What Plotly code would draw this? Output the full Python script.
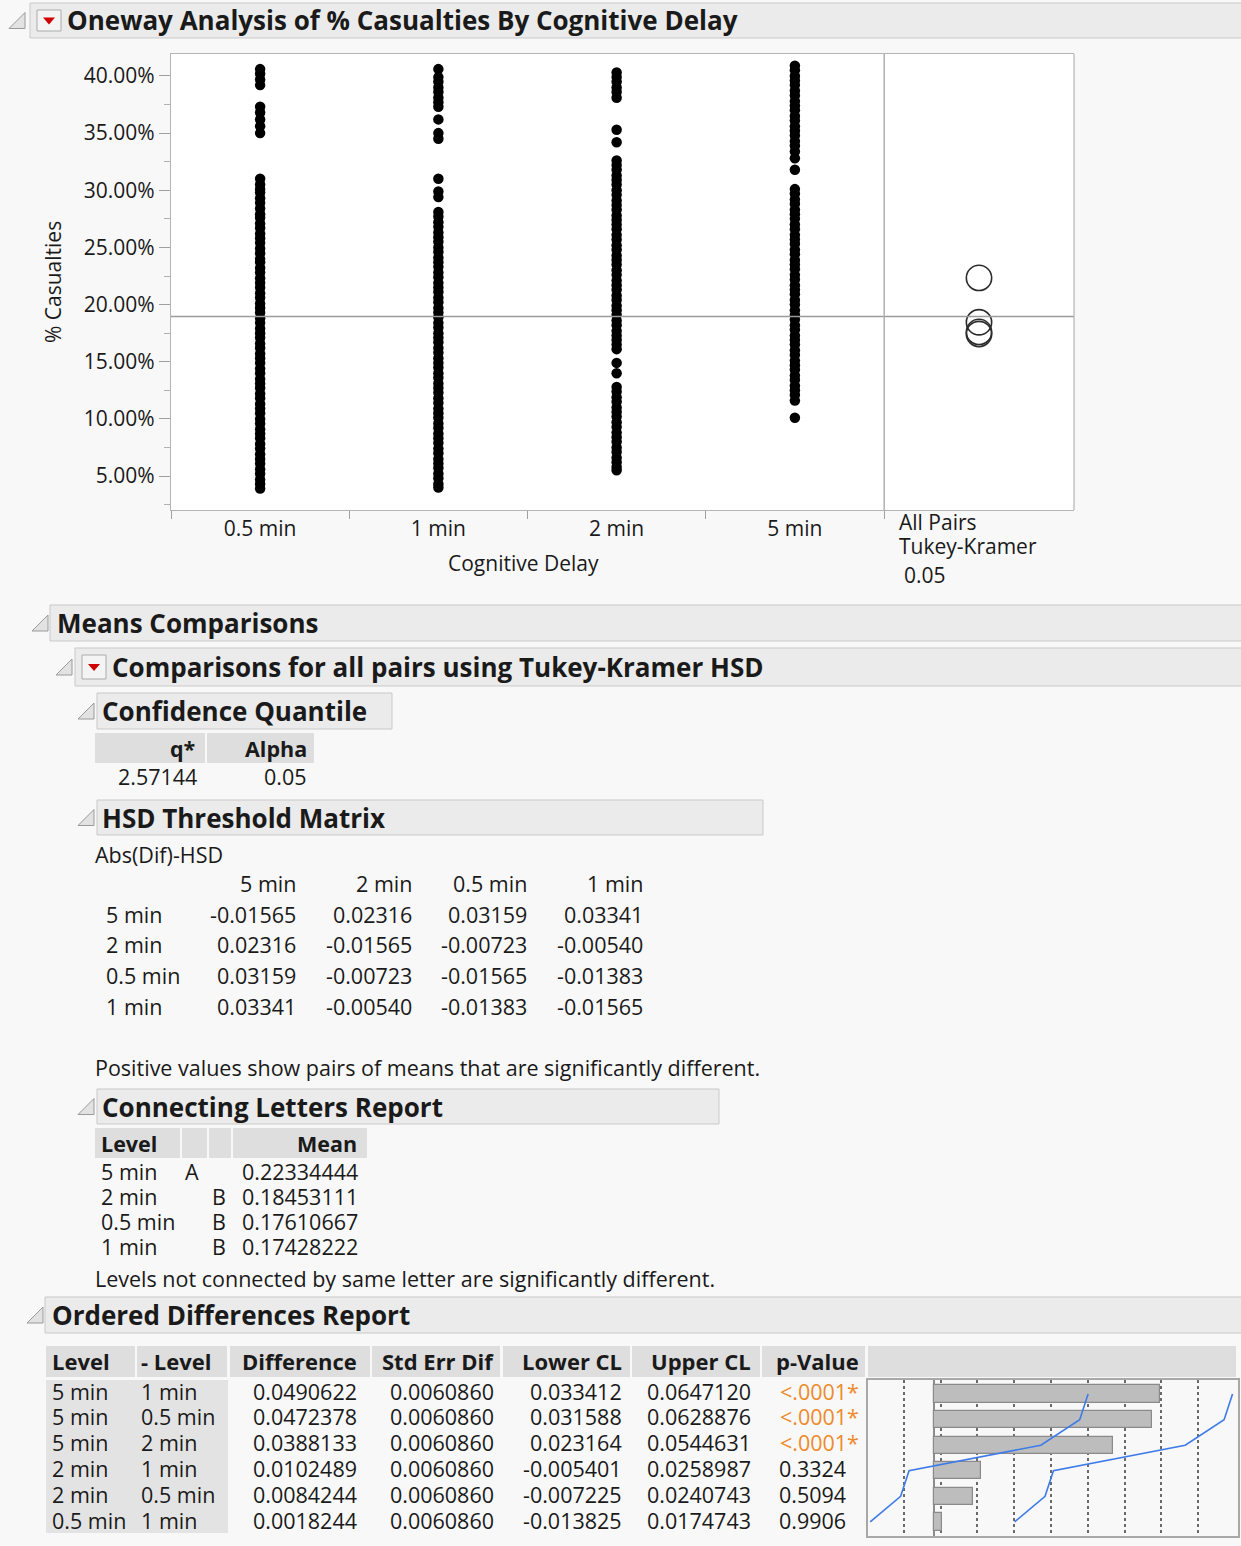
import math

import plotly.graph_objects as go

W, H = 1241, 1546
FONT = "Open Sans, Noto Sans, sans-serif"
TEXT = "#1a1a1a"
BG = "#f8f8f8"
HEAD_FILL = "#ebebeb"
HEAD_LINE = "#c9c9c9"
CELL_FILL = "#dedede"
FRAME = "#b4b4b4"
ORANGE = "#ee8a2b"
BLUE = "#3f7be8"
BODY = 21.5
HEAD = 26

# ---- data -------------------------------------------------------------
LEVELS = ["0.5 min", "1 min", "2 min", "5 min"]

# % Casualties (dense columns read at ~0.45% resolution)
CAS_05 = [40.6, 40.2, 39.7, 39.2,
          37.3, 36.8, 36.2, 35.6, 35.0,
          31.0, 30.5, 30.1, 29.8, 29.3, 28.9, 28.4, 27.9, 27.6, 27.1, 26.7,
          26.2, 25.8, 25.4, 24.9, 24.5, 24.0, 23.7, 23.2, 22.8, 22.3, 21.9,
          21.5, 21.0, 20.6, 20.1, 19.7, 19.3, 18.8, 18.4, 17.9, 17.5, 17.1,
          16.6, 16.2, 15.7, 15.3, 14.9, 14.4, 14.0, 13.5, 13.1, 12.7, 12.2,
          11.8, 11.3, 10.9, 10.5, 10.0, 9.6, 9.1, 8.7, 8.3, 7.8, 7.4, 6.9,
          6.5, 6.1, 5.6, 5.2, 4.7, 4.3, 3.9]
CAS_1 = [40.6, 39.9, 39.5, 39.0, 38.6, 38.1, 37.7, 37.3, 36.2, 35.0, 34.5,
         31.0, 29.9, 29.4,
         28.1, 27.7, 27.2, 26.8, 26.3, 25.9, 25.5, 25.0, 24.6, 24.1, 23.7,
         23.3, 22.8, 22.4, 21.9, 21.5, 21.1, 20.6, 20.2, 19.7, 19.3, 18.9,
         18.4, 18.0, 17.5, 17.1, 16.7, 16.2, 15.8, 15.3, 14.9, 14.5, 14.0,
         13.6, 13.1, 12.7, 12.3, 11.8, 11.4, 10.9, 10.5, 10.1, 9.6, 9.2,
         8.7, 8.3, 7.9, 7.4, 7.0, 6.5, 6.1, 5.7, 5.2, 4.8, 4.3, 4.0]
CAS_2 = [40.3, 39.9, 39.5, 39.0, 38.6, 38.1,
         35.3, 34.2,
         32.6, 32.2, 31.8, 31.3, 30.9, 30.5, 30.0, 29.6, 29.1, 28.7, 28.3,
         27.8, 27.4, 27.0, 26.6, 26.1, 25.7, 25.2, 24.8, 24.3, 23.9, 23.5,
         23.0, 22.6, 22.1, 21.7, 21.3, 20.8, 20.4, 19.9, 19.5, 19.1, 18.6,
         18.2, 17.7, 17.3, 16.9, 16.5, 16.1,
         14.9, 14.0,
         12.8, 12.4, 11.9, 11.5, 11.0, 10.6, 10.2, 9.7, 9.3, 8.8, 8.4, 8.0,
         7.5, 7.1, 6.6, 6.2, 5.8, 5.5]
CAS_5 = [40.9, 40.5, 40.0, 39.6, 39.2, 38.7, 38.3, 37.8, 37.4, 37.0, 36.5,
         36.1, 35.6, 35.2, 34.8, 34.3, 33.9, 33.4, 32.8, 31.8,
         30.1, 29.7, 29.2, 28.8, 28.3, 27.9, 27.5, 27.0, 26.6, 26.1, 25.7,
         25.3, 24.8, 24.4, 23.9, 23.5, 23.1, 22.6, 22.2, 21.7, 21.3, 20.9,
         20.4, 20.0, 19.5, 19.1, 18.7, 18.2, 17.8, 17.3, 16.9, 16.5, 16.0,
         15.6, 15.1, 14.7, 14.3, 13.8, 13.4, 12.9, 12.5, 12.1, 11.6,
         10.1]
CASUALTIES = [CAS_05, CAS_1, CAS_2, CAS_5]

Q_STAR = 2.57144
ALPHA = 0.05
STD_ERR_DIF = 0.0060860

# connecting letters report
CL_LEVELS = ["5 min", "2 min", "0.5 min", "1 min"]
CL_LETTER_A = ["A", "", "", ""]
CL_LETTER_B = ["", "B", "B", "B"]
CL_MEANS = [0.22334444, 0.18453111, 0.17610667, 0.17428222]

# HSD threshold matrix
HSD_LEVELS = ["5 min", "2 min", "0.5 min", "1 min"]
HSD = [
    ["-0.01565", "0.02316", "0.03159", "0.03341"],
    ["0.02316", "-0.01565", "-0.00723", "-0.00540"],
    ["0.03159", "-0.00723", "-0.01565", "-0.01383"],
    ["0.03341", "-0.00540", "-0.01383", "-0.01565"],
]

# ordered differences report
OD_LEVEL = ["5 min", "5 min", "5 min", "2 min", "2 min", "0.5 min"]
OD_MINUS = ["1 min", "0.5 min", "2 min", "1 min", "0.5 min", "1 min"]
OD_DIFF = [0.0490622, 0.0472378, 0.0388133, 0.0102489, 0.0084244, 0.0018244]
OD_SE = [0.0060860] * 6
OD_LOWER = [0.033412, 0.031588, 0.023164, -0.005401, -0.007225, -0.013825]
OD_UPPER = [0.0647120, 0.0628876, 0.0544631, 0.0258987, 0.0240743, 0.0174743]
OD_P = ["<.0001*", "<.0001*", "<.0001*", "0.3324", "0.5094", "0.9906"]
OD_GRID = [-0.0065, 0.0015, 0.0094, 0.0174, 0.0254, 0.0333, 0.0413, 0.0493, 0.0572]

# ---- layout helpers ------------------------------------------------------
MAIN_L, MAIN_R, PANEL_R = 171, 884, 1074
MAIN_T, MAIN_B = 54, 510
Y_RANGE = [2.03, 41.92]
MINI_L, MINI_R, MINI_T, MINI_B = 868, 1238, 1380, 1536


def X(px):
    return px / W


def Y(py):
    return 1 - py / H


shapes = []
annotations = []


def rect(x0, y0, x1, y1, fill, line=None, lw=1):
    shapes.append(dict(type="rect", xref="paper", yref="paper",
                       x0=X(x0), x1=X(x1), y0=Y(y1), y1=Y(y0),
                       fillcolor=fill, line=dict(color=line or fill, width=lw if line else 0),
                       layer="below"))


def text(s, x, y, size=BODY, bold=False, anchor="left", color=TEXT, angle=0):
    annotations.append(dict(text=f"<b>{s}</b>" if bold else s, x=X(x), y=Y(y),
                            xref="paper", yref="paper", showarrow=False,
                            xanchor=anchor, yanchor="middle", textangle=angle,
                            font=dict(family=FONT, size=size, color=color)))


def tri(x0, y0, x1, y1):
    # disclosure icon
    path = f"M {X(x0)} {Y(y1)} L {X(x1)} {Y(y1)} L {X(x1)} {Y(y0)} Z"
    shapes.append(dict(type="path", xref="paper", yref="paper", path=path,
                       fillcolor="#e2e2e2", line=dict(color="#9a9a9a", width=1)))


def red_button(x0, y0, x1, y1):
    shapes.append(dict(type="rect", xref="paper", yref="paper",
                       x0=X(x0), x1=X(x1), y0=Y(y1), y1=Y(y0),
                       fillcolor="#f4f4f4", line=dict(color="#ababab", width=1)))
    cx, cy = (x0 + x1) / 2, (y0 + y1) / 2
    path = (f"M {X(cx - 6)} {Y(cy - 3)} L {X(cx + 6)} {Y(cy - 3)} "
            f"L {X(cx)} {Y(cy + 4)} Z")
    shapes.append(dict(type="path", xref="paper", yref="paper", path=path,
                       fillcolor="#d10000", line=dict(width=0)))


def header(title, x0, y0, x1, y1, tx, tri_x, button=None):
    rect(x0, y0, x1, y1, HEAD_FILL, HEAD_LINE)
    cy = (y0 + y1) / 2
    tri(tri_x, cy - 8, tri_x + 16, cy + 8)
    if button:
        red_button(button, y0 + 7, button + 24, y1 - 7)
    text(title, tx, cy, size=HEAD, bold=True)


fig = go.Figure()

# ---- oneway plot ---------------------------------------------------------
header("Oneway Analysis of % Casualties By Cognitive Delay", 30, 3, W + 2, 38, 65, 9, button=37)
rect(MAIN_L, MAIN_T, PANEL_R, MAIN_B, "white")

for lvl, vals in zip(LEVELS, CASUALTIES):
    fig.add_trace(go.Scatter(
        x=[lvl] * len(vals), y=vals, mode="markers",
        marker=dict(size=10.5, color="black", line=dict(width=0)),
        xaxis="x", yaxis="y", showlegend=False,
    ))

grand_mean = sum(CL_MEANS) / len(CL_MEANS) * 100
shapes.append(dict(type="line", xref="paper", yref="y", x0=X(MAIN_L), x1=X(PANEL_R),
                   y0=grand_mean, y1=grand_mean, line=dict(color="#9b9b9b", width=1.5)))

# comparison circles
px_per_pct = (MAIN_B - MAIN_T) / (Y_RANGE[1] - Y_RANGE[0])
radius_pct = Q_STAR * STD_ERR_DIF / math.sqrt(2) * 100
fig.add_trace(go.Scatter(
    x=[0.5] * len(CL_MEANS), y=[m * 100 for m in CL_MEANS], mode="markers",
    marker=dict(symbol="circle-open", size=2 * radius_pct * px_per_pct,
                color="#2b2b2b", line=dict(width=1.6)),
    xaxis="x2", yaxis="y", showlegend=False,
))

for xp in (MAIN_R, PANEL_R):
    shapes.append(dict(type="line", xref="paper", yref="y domain", x0=X(xp), x1=X(xp),
                       y0=0, y1=1, line=dict(color=FRAME, width=1.2)))

text("% Casualties", 53, 282, angle=-90, anchor="center", size=21)
text("Cognitive Delay", (MAIN_L + MAIN_R) / 2 - 4, 563, anchor="center", size=21)
text("All Pairs", 897, 522, size=21)
text("Tukey-Kramer", 897, 546, size=21)
text(f"{ALPHA:.2f}", 902, 575, size=21)

# ---- means comparisons ---------------------------------------------------
header("Means Comparisons", 50, 605, W + 2, 641, 55, 32)
header("Comparisons for all pairs using Tukey-Kramer HSD", 75, 648, W + 2, 686, 110, 56, button=82)

header("Confidence Quantile", 97, 693, 392, 729, 100, 78)
rect(95, 733, 205, 763, CELL_FILL)
rect(207, 733, 314, 763, CELL_FILL)
text("q*", 198, 748, bold=True, anchor="right")
text("Alpha", 309, 748, bold=True, anchor="right")
text(f"{Q_STAR:.5f}", 199, 776, anchor="right")
text(f"{ALPHA:.2f}", 309, 776, anchor="right")

header("HSD Threshold Matrix", 97, 800, 763, 835, 100, 78)
text("Abs(Dif)-HSD", 93, 854)
HSD_COLS = [298, 414, 529, 645]
for name, cx in zip(HSD_LEVELS, HSD_COLS):
    text(name, cx, 884, anchor="right")
for i, (name, row) in enumerate(zip(HSD_LEVELS, HSD)):
    ry = 914 + i * 30.7
    text(name, 104, ry)
    for val, cx in zip(row, HSD_COLS):
        text(val, cx, ry, anchor="right")
text("Positive values show pairs of means that are significantly different.", 93, 1067)

header("Connecting Letters Report", 97, 1089, 719, 1124, 100, 78)
for x0, x1 in [(95, 180), (182, 207), (209, 231), (233, 367)]:
    rect(x0, 1128, x1, 1158, CELL_FILL)
text("Level", 99, 1143, bold=True)
text("Mean", 359, 1143, bold=True, anchor="right")
for i in range(len(CL_LEVELS)):
    ry = 1171 + i * 25
    text(CL_LEVELS[i], 99, ry)
    text(CL_LETTER_A[i], 192, ry, anchor="center")
    text(CL_LETTER_B[i], 219, ry, anchor="center")
    text(f"{CL_MEANS[i]:.8f}", 360, ry, anchor="right")
text("Levels not connected by same letter are significantly different.", 93, 1278)

# ---- ordered differences -------------------------------------------------
header("Ordered Differences Report", 45, 1297, W + 2, 1333, 50, 27)
OD_CELLS = [(46, 135), (137, 227), (230, 370), (372, 500), (503, 630),
            (632, 760), (762, 865), (868, 1236)]
for x0, x1 in OD_CELLS:
    rect(x0, 1346, x1, 1377, CELL_FILL)
rect(46, 1380, 228, 1533, "#e3e3e3")
text("Level", 50, 1361, bold=True, size=22)
text("- Level", 139, 1361, bold=True, size=22)
for label, xr in [("Difference", 359), ("Std Err Dif", 496), ("Lower CL", 624),
                  ("Upper CL", 753), ("p-Value", 861)]:
    text(label, xr, 1361, bold=True, anchor="right", size=22)
for i in range(len(OD_DIFF)):
    ry = 1391 + i * 25.8
    text(OD_LEVEL[i], 50, ry)
    text(OD_MINUS[i], 139, ry)
    text(f"{OD_DIFF[i]:.7f}", 359, ry, anchor="right")
    text(f"{OD_SE[i]:.7f}", 496, ry, anchor="right")
    text(f"{OD_LOWER[i]:.6f}", 624, ry, anchor="right")
    text(f"{OD_UPPER[i]:.7f}", 753, ry, anchor="right")
    p = OD_P[i]
    text(p, 861 if p.startswith("<") else 848, ry, anchor="right",
         color=ORANGE if p.startswith("<") else TEXT)

rows = list(range(len(OD_DIFF)))
fig.add_trace(go.Bar(
    x=OD_DIFF, y=rows, orientation="h", width=0.68,
    marker=dict(color="#bdbdbd", line=dict(color="#8a8a8a", width=1.2)),
    xaxis="x3", yaxis="y3", showlegend=False,
))
for series in (OD_LOWER, OD_UPPER):
    fig.add_trace(go.Scatter(
        x=series, y=rows, mode="lines", line=dict(color=BLUE, width=1.6),
        xaxis="x3", yaxis="y3", showlegend=False,
    ))

# ---- axes ------------------------------------------------------------------
fig.update_layout(
    width=W, height=H,
    margin=dict(l=0, r=0, t=0, b=0),
    paper_bgcolor=BG,
    plot_bgcolor="rgba(0,0,0,0)",
    font=dict(family=FONT, size=BODY, color=TEXT),
    showlegend=False,
    bargap=0,
    shapes=shapes,
    annotations=annotations,
    xaxis=dict(
        domain=[X(MAIN_L), X(MAIN_R)], type="category", categoryorder="array",
        categoryarray=LEVELS, range=[-0.5, 3.5], tickson="boundaries",
        ticks="outside", ticklen=8, tickcolor="#a0a0a0", showgrid=False,
        showline=True, mirror=True, linecolor=FRAME, linewidth=1.2,
        tickfont=dict(size=21, color=TEXT), fixedrange=True, anchor="y",
    ),
    yaxis=dict(
        domain=[Y(MAIN_B), Y(MAIN_T)], range=Y_RANGE, tick0=0, dtick=5,
        tickformat=".2f", ticksuffix="%", ticks="outside", ticklen=11,
        tickcolor="#a0a0a0", showgrid=False, zeroline=False,
        showline=True, mirror=True, linecolor=FRAME, linewidth=1.2,
        minor=dict(ticks="outside", ticklen=6, dtick=2.5, tick0=0, tickcolor="#b0b0b0"),
        tickfont=dict(size=21, color=TEXT), fixedrange=True, anchor="x",
    ),
    xaxis2=dict(
        domain=[X(MAIN_R), X(PANEL_R)], range=[0, 1], anchor="y",
        showticklabels=False, ticks="", showgrid=False, zeroline=False,
        showline=True, mirror=True, linecolor=FRAME, linewidth=1.2, fixedrange=True,
    ),
    xaxis3=dict(
        domain=[X(MINI_L), X(MINI_R)], range=[-0.0143, 0.0659], anchor="y3",
        tickvals=OD_GRID, showticklabels=False, ticks="",
        showgrid=True, gridcolor="#6a6a6a", gridwidth=2, griddash="dot",
        zeroline=True, zerolinecolor="#8c8c8c", zerolinewidth=2,
        showline=True, mirror=True, linecolor="#a8a8a8", linewidth=1.5, fixedrange=True,
    ),
    yaxis3=dict(
        domain=[Y(MINI_B), Y(MINI_T)], range=[5.55, -0.55], anchor="x3",
        showticklabels=False, ticks="", showgrid=False, zeroline=False,
        showline=True, mirror=True, linecolor="#a8a8a8", linewidth=1.5, fixedrange=True,
    ),
)

fig.write_html("out.html", config={"displayModeBar": False},
               post_script="document.body.style.margin='0';")
